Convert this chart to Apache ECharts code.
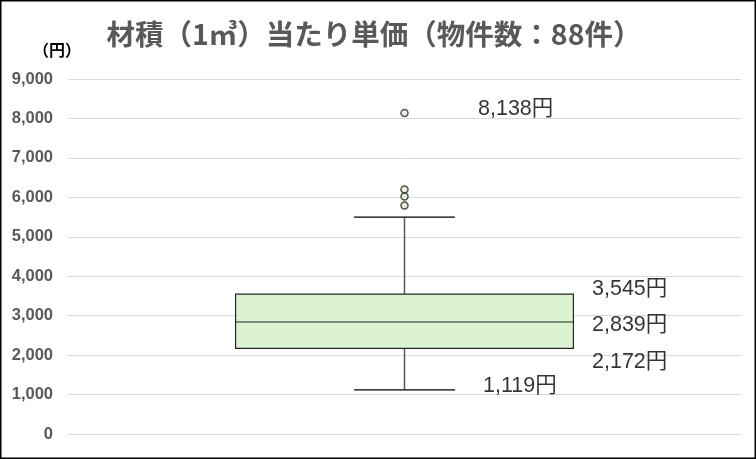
<!DOCTYPE html>
<html>
<head>
<meta charset="utf-8">
<script src="https://cdn.jsdelivr.net/npm/echarts@6/dist/echarts.min.js"></script>
<style>
  html, body { margin: 0; padding: 0; background: #fff; }
  #main { width: 756px; height: 459px; }
</style>
</head>
<body>
<div id="main"></div>
<script>
// データ
var categories = [''];
// [最小, 第1四分位, 中央値, 第3四分位, 最大]
var boxStats = [1119, 2172, 2839, 3545, 5500];
var outliers = [8138, 6200, 6020, 5790];
// 数値ラベルを付ける値
var labelValues = [8138, 3545, 2839, 2172, 1119];
var yTicks = [0, 1000, 2000, 3000, 4000, 5000, 6000, 7000, 8000, 9000];

// ラベルの位置 (見た目用)
var labelOffsets = {
    8138: [73, -4],
    3545: [187, -5],
    2839: [187, 3],
    2172: [187, 14],
    1119: [78, -4]
};

var FONT = "'Liberation Sans', 'Noto Sans CJK JP', sans-serif";

var chart = echarts.init(document.getElementById('main'));

function fmt(v) {
    return v.toLocaleString('en-US');
}

option = {
    animation: false,
    backgroundColor: '#fff',
    title: {
        text: '材積（1㎥）当たり単価（物件数：88件）',
        left: 369,
        textAlign: 'center',
        top: 15,
        textStyle: {
            color: '#595959',
            fontSize: 28.5,
            fontWeight: 'bold',
            fontFamily: "'Noto Sans CJK JP', sans-serif"
        }
    },
    graphic: [
        {
            type: 'text',
            left: 33,
            top: 44,
            style: {
                text: '（円）',
                fill: '#000',
                font: 'bold 16px ' + FONT
            }
        },
        {
            type: 'rect',
            shape: { x: 0.75, y: 0.75, width: 754.5, height: 457.5 },
            style: { fill: 'none', stroke: '#000', lineWidth: 1.5 },
            silent: true
        }
    ],
    grid: {
        left: 68,
        right: 15,
        top: 79,
        bottom: 25
    },
    xAxis: {
        type: 'category',
        data: categories,
        boundaryGap: true,
        axisLine: { show: false },
        axisTick: { show: false },
        axisLabel: { show: false }
    },
    yAxis: {
        type: 'value',
        min: yTicks[0],
        max: yTicks[yTicks.length - 1],
        interval: 1000,
        axisLine: { show: false },
        axisTick: { show: false },
        splitLine: { lineStyle: { color: '#d9d9d9', width: 1 } },
        axisLabel: {
            color: '#595959',
            fontSize: 16.5,
            fontWeight: 'bold',
            fontFamily: FONT,
            margin: 15,
            formatter: function (v) { return fmt(v); }
        }
    },
    series: [
        {
            type: 'custom',
            name: 'box',
            data: [[0].concat(boxStats)],
            encode: { x: 0, y: [1, 2, 3, 4, 5] },
            renderItem: function (params, api) {
                var x = api.value(0);
                var pMin = api.coord([x, api.value(1)]);
                var pQ1 = api.coord([x, api.value(2)]);
                var pMed = api.coord([x, api.value(3)]);
                var pQ3 = api.coord([x, api.value(4)]);
                var pMax = api.coord([x, api.value(5)]);
                var band = api.size([1, 0])[0];
                var bw = band * 0.502, cw = band * 0.15;
                var cx = pMed[0];
                return {
                    type: 'group',
                    children: [
                        { type: 'line', shape: { x1: cx, y1: pQ1[1], x2: cx, y2: pMin[1] },
                          style: { stroke: '#595959', lineWidth: 1.5 } },
                        { type: 'line', shape: { x1: cx, y1: pQ3[1], x2: cx, y2: pMax[1] },
                          style: { stroke: '#595959', lineWidth: 1.5 } },
                        { type: 'line', shape: { x1: cx - cw / 2, y1: pMin[1], x2: cx + cw / 2, y2: pMin[1] },
                          style: { stroke: '#000', lineWidth: 1.2 } },
                        { type: 'line', shape: { x1: cx - cw / 2, y1: pMax[1], x2: cx + cw / 2, y2: pMax[1] },
                          style: { stroke: '#000', lineWidth: 1.2 } },
                        { type: 'rect', shape: { x: cx - bw / 2, y: pQ3[1], width: bw, height: pQ1[1] - pQ3[1] },
                          style: { fill: '#daf2d0', stroke: '#262626', lineWidth: 1.2 } },
                        { type: 'line', shape: { x1: cx - bw / 2, y1: pMed[1], x2: cx + bw / 2, y2: pMed[1] },
                          style: { stroke: '#262626', lineWidth: 1.2 } }
                    ]
                };
            },
            z: 2
        },
        {
            type: 'scatter',
            name: 'outliers',
            data: outliers.map(function (v) { return [0, v]; }),
            symbol: 'circle',
            symbolSize: 7,
            itemStyle: { color: '#daf2d0', borderColor: '#262626', borderWidth: 1.5 },
            z: 3
        },
        {
            type: 'scatter',
            name: 'labels',
            data: labelValues.map(function (v) {
                return {
                    value: [0, v],
                    label: { offset: labelOffsets[v] }
                };
            }),
            symbolSize: 1,
            itemStyle: { color: 'rgba(0,0,0,0)' },
            label: {
                show: true,
                position: 'right',
                distance: 0,
                color: '#000',
                fontSize: 21.5,
                fontFamily: FONT,
                formatter: function (p) { return fmt(p.value[1]) + '円'; }
            },
            z: 4
        }
    ]
};
chart.setOption(option);
</script>
</body>
</html>
